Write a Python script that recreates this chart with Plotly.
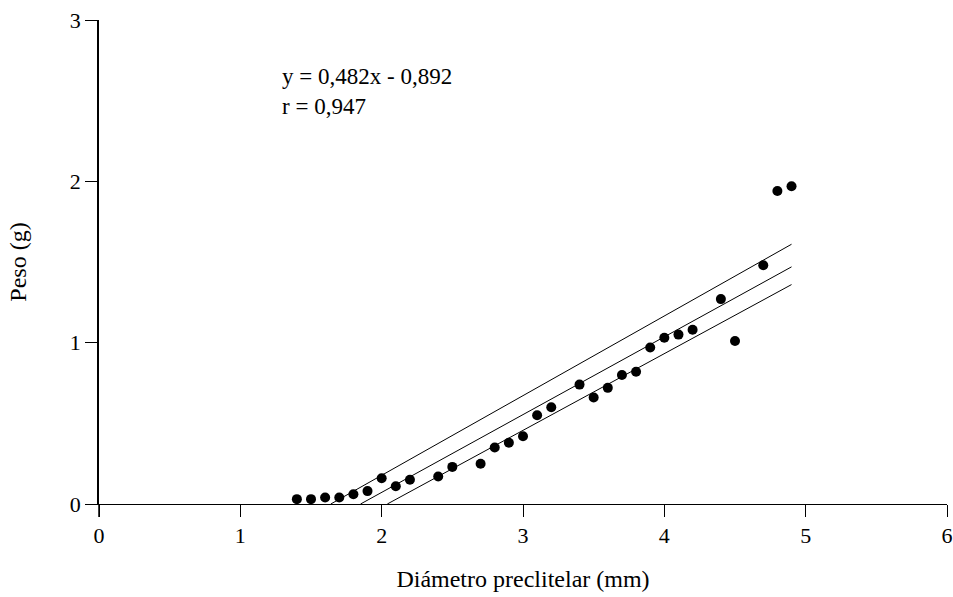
import plotly.graph_objects as go

# Data
diametro = [1.4, 1.5, 1.6, 1.7, 1.8, 1.9, 2.0, 2.1, 2.2, 2.4, 2.5, 2.7, 2.8, 2.9, 3.0,
            3.1, 3.2, 3.4, 3.5, 3.6, 3.7, 3.8, 3.9, 4.0, 4.1, 4.2, 4.4, 4.5, 4.7, 4.8, 4.9]
peso = [0.03, 0.03, 0.04, 0.04, 0.06, 0.08, 0.16, 0.11, 0.15, 0.17, 0.23, 0.25, 0.35, 0.38, 0.42,
        0.55, 0.60, 0.74, 0.66, 0.72, 0.80, 0.82, 0.97, 1.03, 1.05, 1.08, 1.27, 1.01, 1.48, 1.94, 1.97]

slope = 0.482
intercept = -0.892
fit_x = [-intercept / slope, 4.9]
fit_y = [slope * x + intercept for x in fit_x]

upper_x = [1.64, 4.9]
upper_y = [0.0, 1.61]
lower_x = [2.04, 4.9]
lower_y = [0.0, 1.36]

x_ticks = [0, 1, 2, 3, 4, 5, 6]
y_ticks = [0, 1, 2, 3]

font = "'Liberation Serif', 'DejaVu Serif', 'Times New Roman', Times, serif"

fig = go.Figure()
line_style = dict(color="black", width=1)
fig.add_trace(go.Scatter(x=upper_x, y=upper_y, mode="lines", line=line_style, showlegend=False))
fig.add_trace(go.Scatter(x=fit_x, y=fit_y, mode="lines", line=line_style, showlegend=False))
fig.add_trace(go.Scatter(x=lower_x, y=lower_y, mode="lines", line=line_style, showlegend=False))
fig.add_trace(go.Scatter(x=diametro, y=peso, mode="markers",
                         marker=dict(color="black", size=10), showlegend=False, cliponaxis=False))

fig.update_layout(
    width=953, height=597,
    margin=dict(l=99, r=6, t=20, b=93),
    plot_bgcolor="white", paper_bgcolor="white",
    font=dict(family=font, size=22, color="black"),
    xaxis=dict(range=[0, 6], tickvals=x_ticks, showgrid=False, zeroline=False, automargin=False,
               showline=True, linecolor="black", linewidth=1,
               ticks="outside", ticklen=12, tickcolor="black",
               tickfont=dict(family=font, size=22),
               title=dict(text="Diámetro preclitelar (mm)", font=dict(family=font, size=24), standoff=22)),
    yaxis=dict(range=[0, 3], tickvals=y_ticks, showgrid=False, zeroline=False, automargin=False,
               showline=True, linecolor="black", linewidth=1.5,
               ticks="outside", ticklen=12, tickcolor="black",
               tickfont=dict(family=font, size=22),
               title=dict(text="Peso (g)", font=dict(family=font, size=24), standoff=36)),
    annotations=[
        dict(x=0.213, y=0.852, xref="paper", yref="paper", xanchor="left", yanchor="middle",
             align="left", text="y = 0,482x - 0,892<br>r = 0,947", showarrow=False,
             font=dict(family=font, size=23)),
    ],
    shapes=[dict(type="line", xref="paper", yref="paper", x0=0, x1=0, y0=0, y1=-0.027,
                 line=dict(color="black", width=1.5))],
)

fig.write_html("out.html", config={"displayModeBar": False},
               post_script="document.body.style.margin='0';document.body.style.overflow='hidden';")
